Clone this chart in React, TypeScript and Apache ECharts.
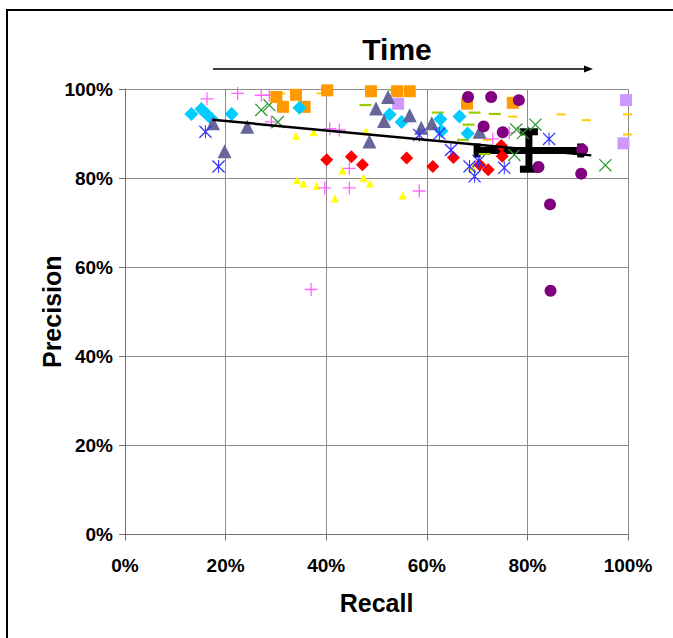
import React, { useEffect, useRef } from "react";
import * as echarts from "echarts";

// ---- data (Recall %, Precision %) ----
const cyanDiamonds = [[13.2,94.4],[15.2,95.5],[16.2,94.4],[17.2,93.3],[21.2,94.4],[34.7,95.8],[52.6,94.3],[55.0,92.6],[62.7,93.2],[62.9,90.6],[66.5,93.8],[68.1,90.0]];
const slateTriangles = [[17.5,92.3],[19.8,86.0],[24.3,91.5],[48.6,88.2],[49.9,95.6],[52.3,98.2],[51.5,92.8],[56.6,94.1],[58.9,91.3],[61.0,92.3],[70.5,90.4]];
const blueStars = [[16.0,90.4],[18.6,82.6],[58.5,89.7],[62.5,90.0],[64.8,86.3],[68.5,82.6],[69.5,80.4],[70.3,83.8],[75.4,82.3],[84.3,88.8]];
const magentaPlus = [[16.3,97.8],[22.4,99.0],[27.1,98.6],[28.7,98.6],[29.1,92.6],[40.7,91.1],[42.6,90.8],[44.6,82.2],[39.7,77.8],[44.6,77.8],[58.5,77.1],[37.0,55.0],[73.1,88.8],[76.4,90.2]];
const greenCross = [[27.1,95.3],[28.7,96.4],[30.4,92.6],[77.8,90.9],[79.1,90.1],[81.6,92.0],[77.4,85.2],[95.5,82.9]];
const orangeSquares = [[30.1,98.2],[34.0,98.7],[31.4,96.0],[35.7,96.0],[40.2,99.7],[48.9,99.5],[54.1,99.5],[56.6,99.5],[68.0,96.7],[77.1,96.9]];
const lavenderSquares = [[54.3,96.7],[99.6,97.5],[99.1,87.8]];
const yellowTriangles = [[34.0,89.5],[37.5,90.3],[47.9,90.5],[34.2,79.5],[35.5,78.8],[38.1,78.2],[41.7,75.4],[43.2,81.7],[47.4,80.1],[48.7,78.8],[55.2,76.1],[69.1,82.4]];
const redDiamonds = [[40.1,84.1],[45.0,84.8],[47.2,83.0],[56.0,84.5],[61.2,82.6],[65.3,84.6],[70.5,83.0],[72.2,81.9],[75.0,84.9],[74.8,87.3]];
const purpleCircles = [[68.2,98.2],[72.8,98.2],[78.3,97.5],[71.3,91.6],[75.1,90.3],[82.2,82.5],[90.9,86.4],[90.7,81.0],[84.5,74.1],[84.6,54.7]];
const limeDashes = [[47.8,96.4],[53.6,99.8],[62.2,94.7],[69.5,94.7],[73.5,94.4],[68.3,92.0],[67.2,88.6],[71.5,85.4]];
const goldDashes = [[31.0,99.0],[39.0,99.0],[77.1,93.8],[86.7,94.3],[91.7,93.0],[99.9,94.3],[99.9,89.8],[72.0,88.6]];
const trendLine = [[17.4,93.1],[92.7,85.1]];
// [meanRecall, meanPrecision, recallError, precisionError]
const meanWithError = [[80.3,86.2,10.3,4.2]];
const axisTicks = [0, 20, 40, 60, 80, 100];

const PLUS = "path://M9,0h2v20h-2z M0,9h20v2h-20z";
const CROSS = "path://M0,1.4L1.4,0L20,18.6L18.6,20Z M18.6,0L20,1.4L1.4,20L0,18.6Z";
const STAR = "path://M0,1.4L1.4,0L20,18.6L18.6,20Z M18.6,0L20,1.4L1.4,20L0,18.6Z M9.2,0h1.6v20h-1.6z";

const FONT = "'Liberation Sans', Arial, sans-serif";

function scatter(name: string, data: number[][], symbol: string, size: any, color: string) {
  return {
    name,
    type: "scatter",
    data,
    symbol,
    symbolSize: size,
    itemStyle: { color, opacity: 1 },
    z: 2,
  };
}

export default function App() {
  const ref = useRef<HTMLDivElement>(null);
  useEffect(() => {
    const chart = echarts.init(ref.current!, null, { renderer: "svg" });
    const gridColor = "#8c8c8c";
    const axisCommon = {
      type: "value",
      min: axisTicks[0],
      max: axisTicks[axisTicks.length - 1],
      interval: axisTicks[1] - axisTicks[0],
      axisLine: { show: true, lineStyle: { color: "#707070", width: 1 } },
      axisTick: { show: true, length: 6, lineStyle: { color: "#707070" } },
      splitLine: { show: true, lineStyle: { color: gridColor, width: 1 } },
      axisLabel: {
        formatter: (v: number) => v + "%",
        color: "#000",
        fontWeight: "bold",
        fontSize: 19,
        fontFamily: FONT,
      },
      nameTextStyle: { color: "#000", fontWeight: "bold", fontSize: 25, fontFamily: FONT },
      nameLocation: "middle",
      nameMoveOverlap: false,
    };
    chart.setOption({
      animation: false,
      backgroundColor: "#fff",
      grid: { left: 125, top: 89, width: 503, height: 445.5, containLabel: false },
      xAxis: {
        ...axisCommon,
        name: "Recall",
        nameGap: 56,
        axisLabel: { ...axisCommon.axisLabel, margin: 21 },
      },
      yAxis: {
        ...axisCommon,
        name: "Precision",
        nameGap: 61,
        axisLabel: { ...axisCommon.axisLabel, margin: 12 },
      },
      graphic: [
        {
          type: "rect",
          shape: { x: 7, y: 10, width: 700, height: 700 },
          style: { fill: "none", stroke: "#000", lineWidth: 2 },
          silent: true,
        },
        {
          type: "text",
          x: 397,
          y: 49,
          style: {
            text: "Time",
            fill: "#000",
            font: "bold 30px " + FONT,
            textAlign: "center",
            textVerticalAlign: "middle",
          },
        },
        {
          type: "line",
          shape: { x1: 213, y1: 69, x2: 588, y2: 69 },
          style: { stroke: "#000", lineWidth: 1.6 },
        },
        {
          type: "polygon",
          shape: { points: [[584, 65.5], [593, 69], [584, 72.5]] },
          style: { fill: "#000" },
        },
      ],
      series: [
        {
          name: "Mean",
          type: "custom",
          data: meanWithError,
          encode: { x: 0, y: 1 },
          z: 1,
          renderItem: (params: any, api: any) => {
            const cx = api.value(0), cy = api.value(1), ex = api.value(2), ey = api.value(3);
            const l = api.coord([cx - ex, cy]);
            const r = api.coord([cx + ex, cy]);
            const t = api.coord([cx, cy + ey]);
            const b = api.coord([cx, cy - ey]);
            const st = { stroke: "#000", lineWidth: 7 };
            const cap = 7;
            return {
              type: "group",
              children: [
                { type: "line", shape: { x1: l[0], y1: l[1], x2: r[0], y2: r[1] }, style: st },
                { type: "line", shape: { x1: t[0], y1: t[1], x2: b[0], y2: b[1] }, style: st },
                { type: "line", shape: { x1: l[0], y1: l[1] - cap, x2: l[0], y2: l[1] + cap }, style: st },
                { type: "line", shape: { x1: r[0], y1: r[1] - cap, x2: r[0], y2: r[1] + cap }, style: st },
                { type: "line", shape: { x1: t[0] - 9, y1: t[1], x2: t[0] + 9, y2: t[1] }, style: st },
                { type: "line", shape: { x1: b[0] - 9, y1: b[1], x2: b[0] + 9, y2: b[1] }, style: st },
              ],
            };
          },
        },
        scatter("Gold", goldDashes, "rect", [9, 2], "#FFCC00"),
        scatter("Lime", limeDashes, "rect", [12, 2.2], "#99CC00"),
        scatter("Yellow", yellowTriangles, "triangle", 8, "#FFFF00"),
        scatter("Magenta", magentaPlus, PLUS, 13, "#FF66FF"),
        scatter("Green", greenCross, CROSS, 13, "#339933"),
        scatter("Orange", orangeSquares, "rect", 12, "#FF9900"),
        scatter("Lavender", lavenderSquares, "rect", 12, "#CC99FF"),
        scatter("Cyan", cyanDiamonds, "diamond", 14, "#00CCFF"),
        scatter("Slate", slateTriangles, "triangle", 14, "#666699"),
        scatter("Red", redDiamonds, "diamond", 13, "#FF0000"),
        scatter("Purple", purpleCircles, "circle", 12, "#800080"),
        scatter("Blue", blueStars, STAR, 13, "#3333FF"),
        {
          name: "Trend",
          type: "line",
          data: trendLine,
          showSymbol: false,
          symbol: "none",
          lineStyle: { color: "#000", width: 2.5 },
          z: 3,
        },
      ],
    });
    return () => chart.dispose();
  }, []);
  return (
    <div
      ref={ref}
      style={{ position: "fixed", left: 0, top: 0, width: 673, height: 638 }}
    />
  );
}
